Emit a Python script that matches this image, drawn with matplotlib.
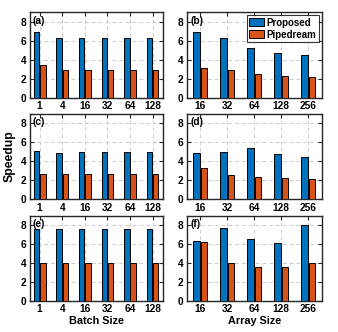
import matplotlib
matplotlib.use("Agg")
import matplotlib.pyplot as plt
import numpy as np

plt.rcParams['font.family'] = ['Liberation Sans', 'DejaVu Sans']
plt.rcParams['font.weight'] = 'bold'

batch_labels = ["1", "4", "16", "32", "64", "128"]
array_labels = ["16", "32", "64", "128", "256"]

a_proposed = [6.95, 6.3, 6.3, 6.28, 6.28, 6.28]
a_pipedream = [3.4, 2.95, 2.88, 2.88, 2.88, 2.88]
b_proposed = [6.92, 6.26, 5.29, 4.66, 4.49]
b_pipedream = [3.13, 2.89, 2.54, 2.3, 2.23]
c_proposed = [5.08, 4.91, 5.02, 5.02, 5.02, 5.02]
c_pipedream = [2.63, 2.63, 2.63, 2.63, 2.63, 2.63]
d_proposed = [4.91, 5.02, 5.37, 4.74, 4.46]
d_pipedream = [3.26, 2.56, 2.39, 2.21, 2.14]
e_proposed = [7.55, 7.55, 7.58, 7.58, 7.58, 7.58]
e_pipedream = [4.04, 4.04, 4.04, 4.04, 4.04, 4.04]
f_proposed = [6.35, 7.65, 6.56, 6.1, 8.02]
f_pipedream = [6.18, 4.04, 3.58, 3.61, 4.04]

panels = [
    ("(a)", batch_labels, a_proposed, a_pipedream),
    ("(b)", array_labels, b_proposed, b_pipedream),
    ("(c)", batch_labels, c_proposed, c_pipedream),
    ("(d)", array_labels, d_proposed, d_pipedream),
    ("(e)", batch_labels, e_proposed, e_pipedream),
    ("(f)", array_labels, f_proposed, f_pipedream),
]

blue = "#0072BD"
orange = "#D95319"
W, H = 338, 332
fig = plt.figure(figsize=(W / 100, H / 100), dpi=100)

col_left = [29.5, 186.7]
col_width = [133.2, 135.0]
row_bottom = [234.3, 132.7, 31.0]
row_h = 85.4

for i, (lab, cats, p, q) in enumerate(panels):
    r, c = divmod(i, 2)
    ax = fig.add_axes([col_left[c] / W, row_bottom[r] / H, col_width[c] / W, row_h / H])
    x = np.arange(1, len(cats) + 1)
    bw = 0.24
    ax.bar(x - 0.14, p, bw, color=blue, edgecolor='black', linewidth=0.7, label='Proposed', zorder=3)
    ax.bar(x + 0.14, q, bw, color=orange, edgecolor='black', linewidth=0.7, label='Pipedream', zorder=3)
    ax.set_ylim(0, 9)
    ax.set_yticks([0, 2, 4, 6, 8])
    ax.set_xticks(x)
    ax.set_xticklabels(cats)
    if len(cats) == 6:
        ax.set_xlim(0.55, 6.45)
    else:
        ax.set_xlim(0.5, 5.5)
    ax.grid(True, linestyle=(0, (4, 3)), color='#cccccc', linewidth=0.7, zorder=0)
    ax.set_axisbelow(True)
    ax.tick_params(direction='in', length=3, width=0.8, top=True, right=True,
                   labelsize=7.3, pad=2.5, colors='#262626')
    for t in ax.get_xticklabels() + ax.get_yticklabels():
        t.set_fontweight('bold')
        t.set_color('black')
    for s in ax.spines.values():
        s.set_linewidth(1.0)
        s.set_color('#262626')
    ax.text(0.025, 0.9, lab, transform=ax.transAxes, fontsize=7.3, fontweight='bold',
            va='center', ha='left', zorder=5)
    if lab == "(b)":
        leg = ax.legend(loc='upper right', fontsize=7, frameon=True, fancybox=False,
                        edgecolor='black', borderpad=0.25, labelspacing=0.2,
                        handlelength=1.5, handleheight=0.9, handletextpad=0.3,
                        borderaxespad=0.3)
        leg.get_frame().set_linewidth(0.8)
        for t in leg.get_texts():
            t.set_fontweight('bold')
    if lab == "(e)":
        ax.set_xlabel("Batch Size", fontsize=7.8, fontweight='bold', labelpad=1)
    if lab == "(f)":
        ax.set_xlabel("Array Size", fontsize=7.8, fontweight='bold', labelpad=1)
    if lab == "(c)":
        ax.set_ylabel("Speedup", fontsize=8.8, fontweight='bold', labelpad=3)

fig.savefig("out.png", dpi=100)
